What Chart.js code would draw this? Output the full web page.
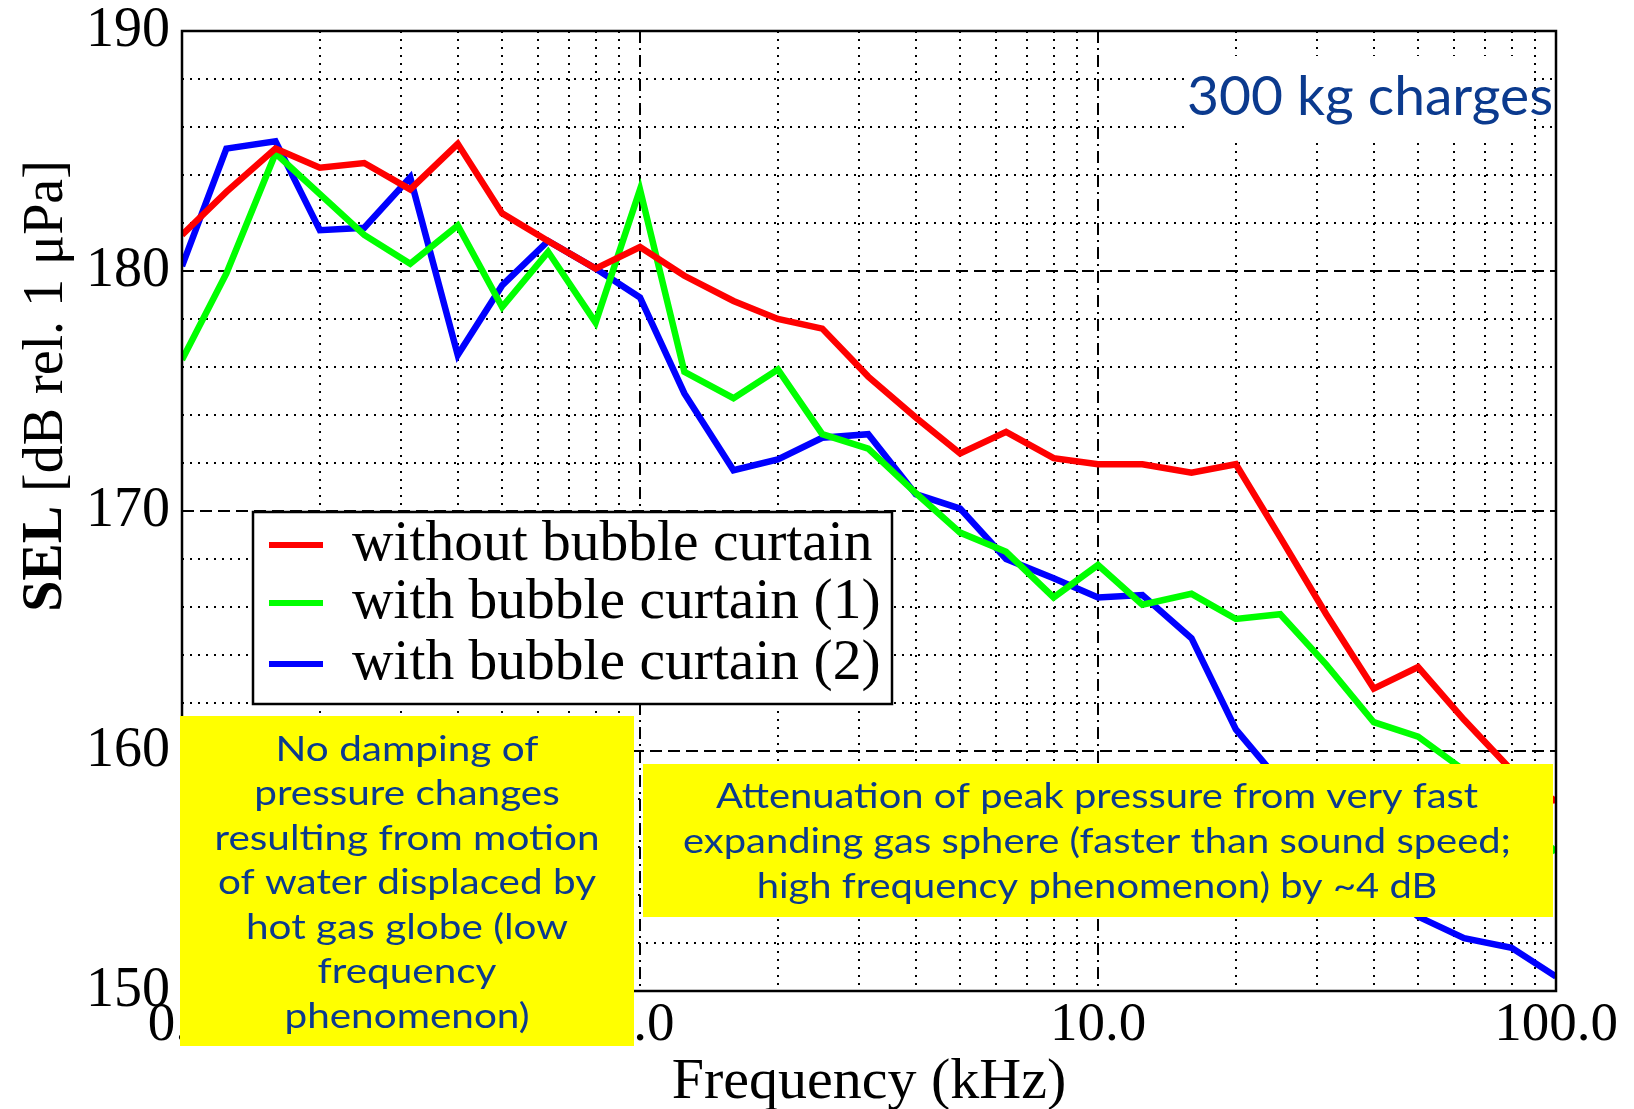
<!DOCTYPE html>
<html>
<head>
<meta charset="utf-8">
<script src="https://cdn.jsdelivr.net/npm/chart.js@4.4.0/dist/chart.umd.min.js"></script>
<style>
  html, body { margin: 0; padding: 0; background: #fff; }
  #wrap { width: 1634px; height: 1109px; }
</style>
</head>
<body>
<div id="wrap"><canvas id="grafico" width="1634" height="1109"></canvas></div>
<script>
// third-octave band centre frequencies (kHz)
const frequencias = [0.1, 0.125, 0.16, 0.2, 0.25, 0.315, 0.4, 0.5, 0.63, 0.8,
  1, 1.25, 1.6, 2, 2.5, 3.15, 4, 5, 6.3, 8,
  10, 12.5, 16, 20, 25, 31.5, 40, 50, 63, 80, 100]

// SEL values (dB re 1 µPa)
const semCortina = [181.5, 183.3, 185.1, 184.3, 184.5, 183.4, 185.3, 182.4, 181.25, 180.1,
  181.0, 179.8, 178.75, 178.0, 177.6, 175.6, 173.9, 172.4, 173.3, 172.2,
  171.95, 171.95, 171.6, 171.95, 168.9, 165.7, 162.6, 163.5, 161.3, 159.2, 157.9]
const comCortina1 = [176.3, 179.9, 184.9, 183.2, 181.5, 180.3, 181.9, 178.5, 180.8, 177.85,
  183.4, 175.8, 174.7, 175.9, 173.2, 172.6, 170.75, 169.1, 168.3, 166.4,
  167.75, 166.1, 166.55, 165.5, 165.7, 163.6, 161.2, 160.6, 159.2, 157.5, 155.8]
const comCortina2 = [180.2, 185.1, 185.4, 181.7, 181.8, 183.9, 176.5, 179.4, 181.25, 180.1,
  178.9, 174.9, 171.7, 172.15, 173.05, 173.2, 170.7, 170.1, 168.0, 167.2,
  166.4, 166.5, 164.7, 160.9, 158.7, 156.5, 154.6, 153.1, 152.2, 151.8, 150.6]

const nomesSeries = ['without bubble curtain', 'with bubble curtain (1)', 'with bubble curtain (2)']
const coresSeries = ['#ff0000', '#00ff00', '#0000ff']

// grid positions and tick labels
const ticksX = [0.1, 0.2, 0.3, 0.4, 0.5, 0.6, 0.7, 0.8, 0.9,
  1, 2, 3, 4, 5, 6, 7, 8, 9,
  10, 20, 30, 40, 50, 60, 70, 80, 90, 100]
const valoresRotulosX = [0.1, 1, 10, 100]
const textosRotulosX = ['0.1', '1.0', '10.0', '100.0']
const ticksY = [150, 152, 154, 156, 158, 160, 162, 164, 166, 168, 170,
  172, 174, 176, 178, 180, 182, 184, 186, 188, 190]
const rotulosY = [150, 160, 170, 180, 190]

const textoTitulo = '300 kg charges'
const notaBaixa = ['No damping of', 'pressure changes', 'resulting from motion',
  'of water displaced by', 'hot gas globe (low', 'frequency', 'phenomenon)']
const notaAlta = ['Attenuation of peak pressure from very fast',
  'expanding gas sphere (faster than sound speed;',
  'high frequency phenomenon) by ~4 dB']

const azulTexto = '#0b3a8e'
const fonteNota = 'Lato, "Open Sans", sans-serif'

function serie(valores) {
  return frequencias.map((f, i) => ({ x: f, y: valores[i] }))
}

function ehMaior(valor, lista) {
  return lista.some(v => Math.abs(v - valor) < 1e-9)
}

function linhasCentradas(ctx, linhas, cx, y0, passo, larguraAlvo) {
  let maior = Math.max(...linhas.map(l => ctx.measureText(l).width))
  let esc = larguraAlvo ? larguraAlvo / maior : 1
  linhas.forEach((l, i) => {
    ctx.save()
    ctx.translate(cx, y0 + i * passo)
    ctx.scale(esc, 1)
    ctx.fillText(l, 0, 0)
    ctx.restore()
  })
}

const decoracoes = {
  id: 'decoracoes',
  afterDatasetsDraw(chart) {
    const { ctx, chartArea: a } = chart
    ctx.save()
    ctx.setLineDash([])

    // frame
    ctx.strokeStyle = '#000'
    ctx.lineWidth = 2.5
    ctx.strokeRect(a.left, a.top, a.right - a.left, a.bottom - a.top)

    // legend
    ctx.fillStyle = '#fff'
    ctx.fillRect(253, 512, 639, 192)
    ctx.strokeRect(253, 512, 639, 192)
    const linhasLegenda = [545, 603, 664]
    ctx.font = '57.5px "Liberation Serif", serif'
    ctx.textBaseline = 'middle'
    ctx.textAlign = 'left'
    chart.data.datasets.forEach((ds, i) => {
      ctx.strokeStyle = ds.borderColor
      ctx.lineWidth = 6
      ctx.beginPath()
      ctx.moveTo(269, linhasLegenda[i])
      ctx.lineTo(323, linhasLegenda[i])
      ctx.stroke()
      ctx.fillStyle = '#000'
      ctx.fillText(ds.label, 352, linhasLegenda[i])
    })

    // "300 kg charges"
    ctx.fillStyle = '#fff'
    ctx.fillRect(1187, 56, 343, 86)
    ctx.fillStyle = azulTexto
    ctx.font = '55px ' + fonteNota
    ctx.textBaseline = 'alphabetic'
    ctx.textAlign = 'right'
    let wt = ctx.measureText(textoTitulo).width
    ctx.save()
    ctx.translate(1553, 115)
    ctx.scale(366 / wt, 1)
    ctx.fillText(textoTitulo, 0, 0)
    ctx.restore()

    // yellow notes
    ctx.fillStyle = '#ffff00'
    ctx.fillRect(180, 716, 454, 330)
    ctx.fillRect(643, 764, 910, 153)
    ctx.fillStyle = azulTexto
    ctx.textAlign = 'center'
    ctx.textBaseline = 'middle'
    ctx.font = '34px ' + fonteNota
    linhasCentradas(ctx, notaBaixa, 407, 750, 44.5, 385)
    linhasCentradas(ctx, notaAlta, 1097, 797, 45, 828)

    // y axis title: bold "SEL" + regular rest
    ctx.save()
    ctx.translate(47, 386)
    ctx.rotate(-Math.PI / 2)
    ctx.fillStyle = '#000'
    ctx.textAlign = 'left'
    ctx.textBaseline = 'middle'
    const fB = 'bold 56px "Liberation Serif", serif'
    const fR = '56px "Liberation Serif", serif'
    ctx.font = fB
    let w1 = ctx.measureText('SEL').width
    ctx.font = fR
    let w2 = ctx.measureText(' [dB rel. 1 \u03bcPa]').width
    let x0 = -(w1 + w2) / 2
    ctx.font = fB
    ctx.fillText('SEL', x0, 0)
    ctx.font = fR
    ctx.fillText(' [dB rel. 1 \u03bcPa]', x0 + w1, 0)
    ctx.restore()

    ctx.restore()
  }
}

const ctx = document.getElementById('grafico').getContext('2d')

new Chart(ctx, {
  type: 'line',
  data: {
    datasets: [semCortina, comCortina1, comCortina2].map((valores, i) => ({
      label: nomesSeries[i],
      data: serie(valores),
      borderColor: coresSeries[i],
      backgroundColor: coresSeries[i],
      borderWidth: 6.5,
      pointRadius: 0,
      tension: 0,
      fill: false
    }))
  },
  options: {
    responsive: false,
    animation: false,
    devicePixelRatio: 1,
    layout: { padding: { left: 0, right: 78, top: 31, bottom: 0 } },
    plugins: {
      legend: { display: false },
      tooltip: { enabled: false }
    },
    scales: {
      x: {
        type: 'logarithmic',
        min: 0.1,
        max: 100,
        afterBuildTicks: axis => { axis.ticks = ticksX.map(v => ({ value: v })) },
        afterFit: axis => { axis.height = 118 },
        ticks: {
          autoSkip: false,
          maxRotation: 0,
          padding: 2,
          color: '#000',
          font: { family: '"Liberation Serif", serif', size: 55 },
          callback: value => {
            let k = valoresRotulosX.findIndex(v => Math.abs(v - value) < 1e-9)
            return k >= 0 ? textosRotulosX[k] : ''
          }
        },
        grid: { color: '#000', lineWidth: 2, drawTicks: false },
        border: {
          display: false,
          dash: c => (c.tick && ehMaior(c.tick.value, valoresRotulosX)) ? [12, 5, 2, 5] : [2, 6]
        },
        title: {
          display: true,
          text: 'Frequency (kHz)',
          color: '#000',
          font: { family: '"Liberation Serif", serif', size: 58, lineHeight: 0.9 },
          padding: { top: 0, bottom: 0 }
        }
      },
      y: {
        min: 150,
        max: 190,
        afterBuildTicks: axis => { axis.ticks = ticksY.map(v => ({ value: v })) },
        afterFit: axis => { axis.width = 182 },
        ticks: {
          autoSkip: false,
          padding: 12,
          color: '#000',
          font: { family: '"Liberation Serif", serif', size: 56, lineHeight: 0.6 },
          callback: value => rotulosY.includes(value) ? String(value) : ''
        },
        grid: { color: '#000', lineWidth: 2, drawTicks: false },
        border: {
          display: false,
          dash: c => (c.tick && rotulosY.includes(c.tick.value)) ? [12, 6] : [2, 6]
        }
      }
    }
  },
  plugins: [decoracoes]
})
</script>
</body>
</html>
